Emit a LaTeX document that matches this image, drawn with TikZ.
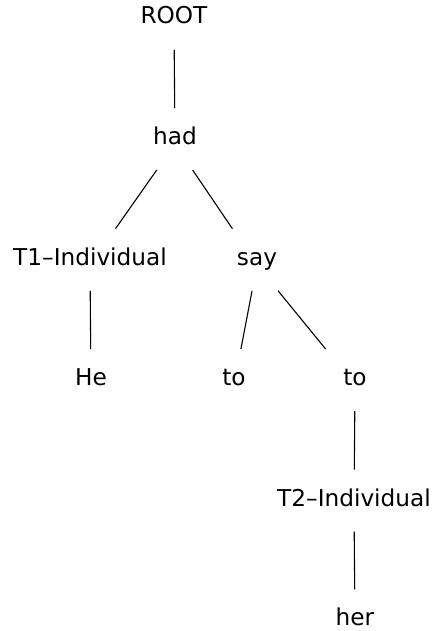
\documentclass[tikz,border=0pt]{standalone}
\usepackage{fontspec}
\setmainfont{DejaVu Sans}
\usetikzlibrary{calc}
\begin{document}
\begin{tikzpicture}[x=0.5pt,y=-0.5pt,
  word/.style={anchor=base,inner sep=0pt,font=\fontsize{11.6}{13}\selectfont},
  edge/.style={draw=black,line width=0.55pt}]
\useasboundingbox (0,0) rectangle (432,631);
% tree nodes, placed by their baselines
\node[word] (root) at (174,24)  {ROOT};
\node[word] (had)  at (175,144) {had};
\node[word] (t1)   at (90,265)  {T1–Individual};
\node[word] (say)  at (257,265) {say};
\node[word] (he)   at (91,385)  {He};
\node[word] (toa)  at (234,385) {to};
\node[word] (tob)  at (355,385) {to};
\node[word] (t2)   at (354,506) {T2–Individual};
\node[word] (her)  at (355,625) {her};
% dependency links between baselines, trimmed at both ends
\foreach \a/\b in {root/had,had/t1,had/say,t1/he,say/toa,say/tob,tob/t2,t2/her}
  \draw[edge] ($(\a.base)!0.215!(\b.base)$) -- ($(\a.base)!0.70!(\b.base)$);
\end{tikzpicture}
\end{document}
